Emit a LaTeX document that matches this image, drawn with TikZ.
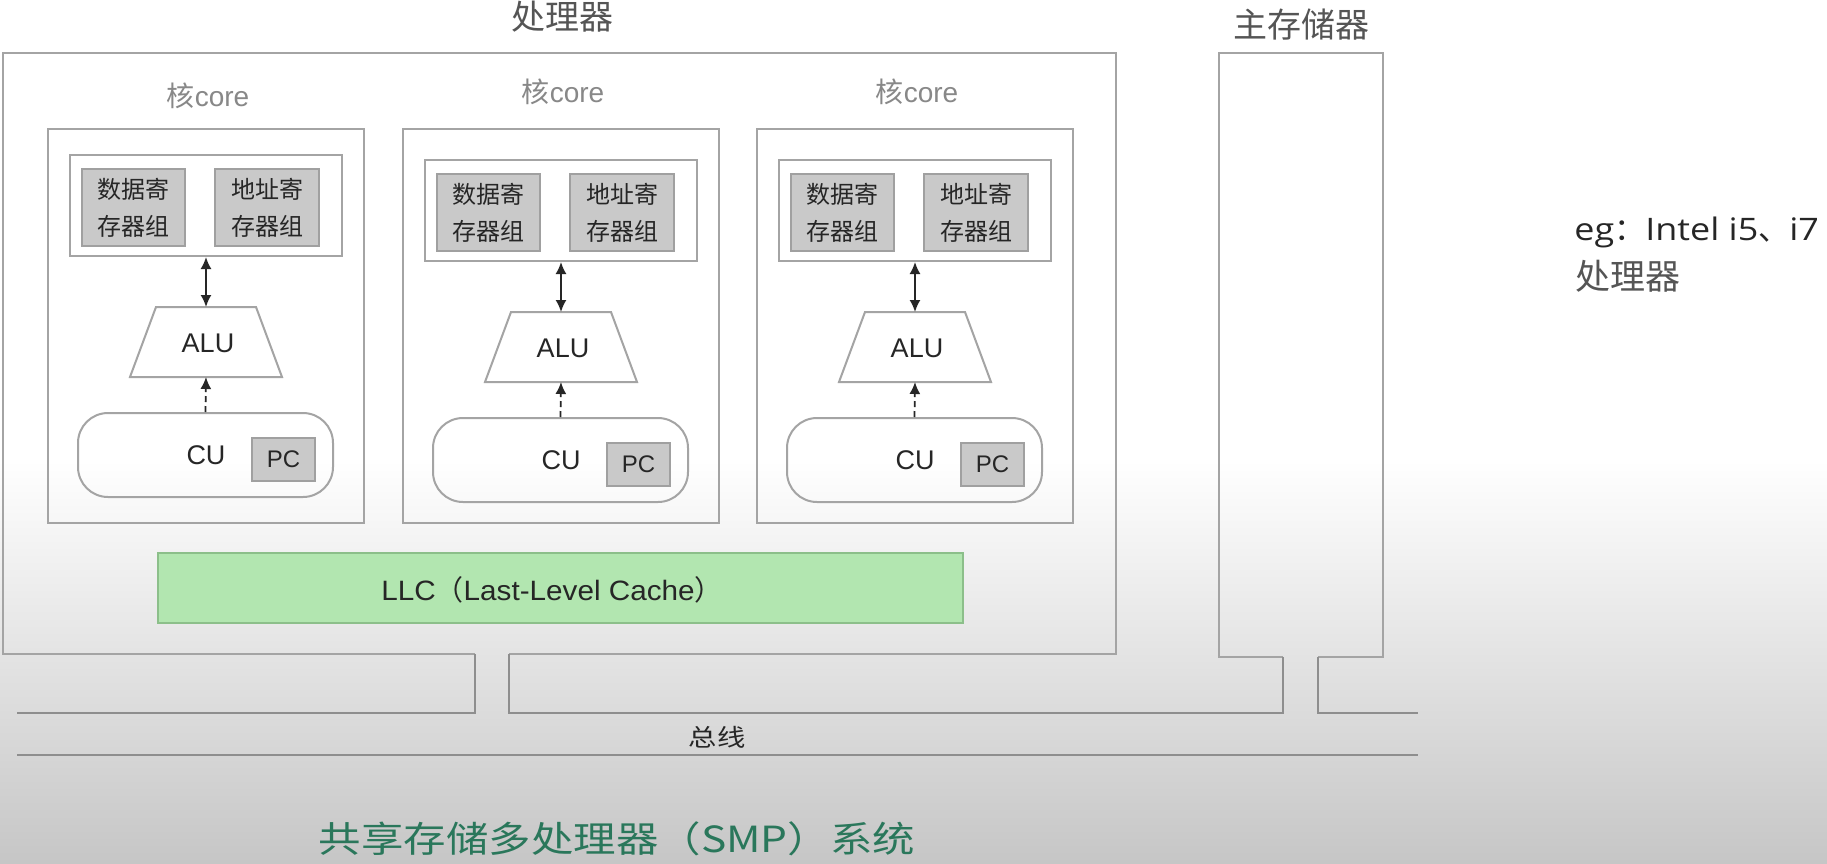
\documentclass[tikz,border=0pt]{standalone}
\usepackage{fontspec}
\setmainfont{Liberation Sans}
\newfontfamily\cjk{Noto Sans CJK SC}
\newfontfamily\cjkw[FakeStretch=1.18]{Noto Sans CJK SC}
\newfontfamily\latw[FakeStretch=1.06]{Liberation Sans}
\newfontfamily\opens[FakeStretch=1.16]{Open Sans}
\usetikzlibrary{arrows.meta,fit}
\definecolor{linegray}{HTML}{A4A4A4}
\definecolor{busgray}{HTML}{8E8E8E}
\definecolor{boxfill}{HTML}{C9C9C9}
\definecolor{boxline}{HTML}{A0A0A0}
\definecolor{llcfill}{HTML}{B2E6B0}
\definecolor{llcline}{HTML}{8CBF8A}
\definecolor{txt}{HTML}{262626}
\definecolor{titlegray}{HTML}{555555}
\definecolor{coregray}{HTML}{888888}
\definecolor{smpgreen}{HTML}{2A775B}
\definecolor{bgbot}{HTML}{C6C6C6}
\tikzset{
  frame/.style={draw=linegray, line width=1pt, inner sep=0pt, fill=none},
  graybox/.style={draw=boxline, line width=1pt, fill=boxfill, inner sep=0pt},
  llcbox/.style={draw=llcline, line width=1pt, fill=llcfill, inner sep=0pt},
  busline/.style={draw=busgray, line width=1pt},
  lbl/.style={text=txt, inner sep=0pt, font=\fontsize{13.5pt}{15pt}\selectfont},
  pclbl/.style={text=txt, inner sep=0pt, font=\fontsize{12pt}{14pt}\selectfont},
  regtxt/.style={text=txt, inner sep=0pt, align=center, font=\cjk\fontsize{12pt}{18.5pt}\selectfont},
  corelbl/.style={text=coregray, inner sep=0pt, font=\fontsize{14pt}{16pt}\selectfont},
  title/.style={text=titlegray, inner sep=0pt, font=\cjk\fontsize{17pt}{20pt}\selectfont},
  dblarrow/.style={draw=txt, line width=0.9pt, {Latex[length=6pt,width=5.5pt]}-{Latex[length=6pt,width=5.5pt]}},
  dasharrow/.style={draw=txt, line width=0.9pt, dash pattern=on 3pt off 2pt, -{Latex[length=6pt,width=5.5pt]}}
}
\begin{document}
\begin{tikzpicture}[x=0.5pt,y=-0.5pt]
\useasboundingbox (0,0) rectangle (1827,863);
\fill[white] (0,0) rectangle (1827,461);
\shade[top color=white, bottom color=bgbot] (0,460) rectangle (1827,863);

% processor
\node[title] (proctitle) at (562,17) {处理器};
\coordinate (pgl) at (475,654);
\coordinate (pgr) at (509,654);
\draw[frame] (pgl) -- (3,654) -- (3,53) -- (1116,53) -- (1116,654) -- (pgr);

% memory
\node[title] (memtitle) at (1301,25) {主存储器};
\coordinate (mgl) at (1283,657);
\coordinate (mgr) at (1318,657);
\draw[frame] (mgl) -- (1219,657) -- (1219,53) -- (1383,53) -- (1383,657) -- (mgr);

% cores
\foreach \i/\L/\dy/\ly in {1/48/-5/96, 2/403/0/92, 3/757/0/92}{
  \node[frame, fit={(\L,129) ({\L+316},523)}] (core\i) {};
  \node[corelbl] (corelbl\i) at ({\L+160},\ly) {{\cjk 核}core};
  \node[frame, fit={({\L+22},{160+\dy}) ({\L+294},{261+\dy})}] (rg\i) {};
  \node[graybox, fit={({\L+34},{174+\dy}) ({\L+137},{251+\dy})}] (dr\i) {};
  \node[regtxt] (drt\i) at (dr\i.center) {数据寄\\存器组};
  \node[graybox, fit={({\L+167},{174+\dy}) ({\L+271},{251+\dy})}] (ar\i) {};
  \node[regtxt] (art\i) at (ar\i.center) {地址寄\\存器组};
  \draw[frame, fill=white] ({\L+108},{312+\dy}) -- ({\L+208},{312+\dy}) -- ({\L+234},{382+\dy}) -- ({\L+82},{382+\dy}) -- cycle;
  \coordinate (alut\i) at ({\L+158},{312+\dy});
  \coordinate (alub\i) at ({\L+158},{382+\dy});
  \node[lbl] (alu\i) at ({\L+160},{348+\dy}) {ALU};
  \node[frame, rounded corners=15pt, fit={({\L+30},{418+\dy}) ({\L+285},{502+\dy})}] (cu\i) {};
  \node[lbl] (cut\i) at ({\L+158},{460+\dy}) {CU};
  \node[graybox, fit={({\L+204},{443+\dy}) ({\L+267},{486+\dy})}] (pc\i) {};
  \node[pclbl] (pct\i) at (pc\i.center) {PC};
  \draw[dblarrow] (rg\i.south) -- (alut\i);
  \draw[dasharrow] (cu\i.north) -- (alub\i);
}

% LLC
\node[llcbox, fit={(158,553) (963,623)}] (llc) {};
\node[text=txt, inner sep=0pt, font=\latw\fontsize{14pt}{16pt}\selectfont] (llct) at (552,590) {LLC{\cjk （}Last-Level Cache{\cjk ）}};

% bus
\draw[busline] (17,713) -- (475,713) -- (pgl);
\draw[busline] (pgr) -- (509,713) -- (1283,713) -- (mgl);
\draw[busline] (mgr) -- (1318,713) -- (1418,713);
\draw[busline] (17,755) -- (1418,755);
\node[text=txt, inner sep=0pt, font=\cjkw\fontsize{12pt}{14pt}\selectfont] (bus) at (717,737) {总线};

% side note
\node[anchor=west, text=txt, inner sep=0pt, font=\fontsize{15.5pt}{18pt}\selectfont] (eg1) at (1574,232) {{\opens eg}{\cjk ：}{\opens Intel i5}{\cjk 、}{\opens i7}};
\node[anchor=west, text=titlegray, inner sep=0pt, font=\cjk\fontsize{17.5pt}{20pt}\selectfont] (eg2) at (1575,276) {处理器};

% caption
\node[text=smpgreen, inner sep=0pt, font=\cjkw\fontsize{18pt}{21pt}\selectfont] (caption) at (617,839) {共享存储多处理器（SMP）系统};
\end{tikzpicture}
\end{document}
